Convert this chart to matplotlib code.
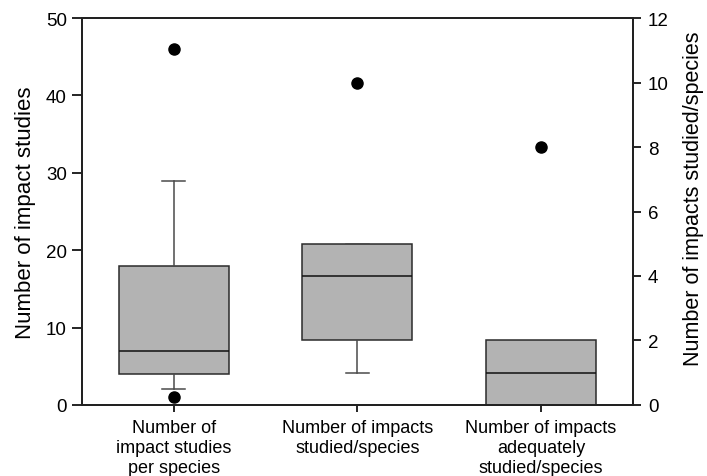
import matplotlib
matplotlib.use("Agg")
import matplotlib.pyplot as plt
import matplotlib.transforms as mtransforms

plt.rcParams['font.family'] = ['Liberation Sans', 'DejaVu Sans']

categories = ["Number of\nimpact studies\nper species",
              "Number of impacts\nstudied/species",
              "Number of impacts\nadequately\nstudied/species"]

# five-number summaries (whislo, q1, med, q3, whishi) and outliers
studies_stats = dict(whislo=2, q1=4, med=7, q3=18, whishi=29, fliers=[46, 1])
impacts_stats = dict(whislo=1, q1=2, med=4, q3=5, whishi=5, fliers=[10])
adequate_stats = dict(whislo=0, q1=0, med=1, q3=2, whishi=2, fliers=[8])

left_ticks = [0, 10, 20, 30, 40, 50]
right_ticks = [0, 2, 4, 6, 8, 10, 12]

fig = plt.figure(figsize=(7.07, 4.77), dpi=100)
ax = fig.add_axes([0.116, 0.149, 0.779, 0.811])
ax2 = ax.twinx()

edge = '#2b2b2b'
wcol = '#4a4a4a'
boxprops = dict(facecolor='#b3b3b3', edgecolor=edge, linewidth=1.1)
common = dict(widths=0.6, patch_artist=True, showfliers=True,
              boxprops=boxprops,
              medianprops=dict(color='#111111', linewidth=1.1),
              whiskerprops=dict(color=wcol, linewidth=1.1),
              capprops=dict(color=wcol, linewidth=1.1),
              flierprops=dict(marker='o', markerfacecolor='black',
                              markeredgecolor='black', markersize=8))

ax.bxp([studies_stats], positions=[1], capwidths=[0.125], **common)
ax2.bxp([impacts_stats, adequate_stats], positions=[2, 3], capwidths=[0.125, 0.0], **common)

ax.set_xlim(0.5, 3.5)
ax.set_ylim(0, 50)
ax2.set_ylim(0, 12)
ax.set_yticks(left_ticks)
ax2.set_yticks(right_ticks)
ax.set_xticks([1, 2, 3])
ax.set_xticklabels(categories, fontsize=13, linespacing=1.22)
ax2.set_xticks([1, 2, 3])

# small horizontal offsets of the category labels, as in the original
for lbl, dx in zip(ax.get_xticklabels(), [12, 14, 4]):
    lbl.set_transform(lbl.get_transform() +
                      mtransforms.ScaledTranslation(dx / 100, 0, fig.dpi_scale_trans))

for a in (ax, ax2):
    for s in a.spines.values():
        s.set_linewidth(1.4)
        s.set_color('#222222')
ax.tick_params(axis='y', labelsize=13.5, length=7, width=1.2, direction='out', pad=4)
ax2.tick_params(axis='y', labelsize=13.5, length=6, width=1.2, direction='out', pad=5)
ax.tick_params(axis='x', length=5, width=1.2, direction='out', pad=5)
ax2.tick_params(axis='x', length=0, labelbottom=False)

ax.set_ylabel("Number of impact studies", fontsize=16, labelpad=7)
ax2.set_ylabel("Number of impacts studied/species", fontsize=15.5, labelpad=10)
ax2.yaxis.label.set_y(0.536)

fig.savefig("out.png", dpi=100)
